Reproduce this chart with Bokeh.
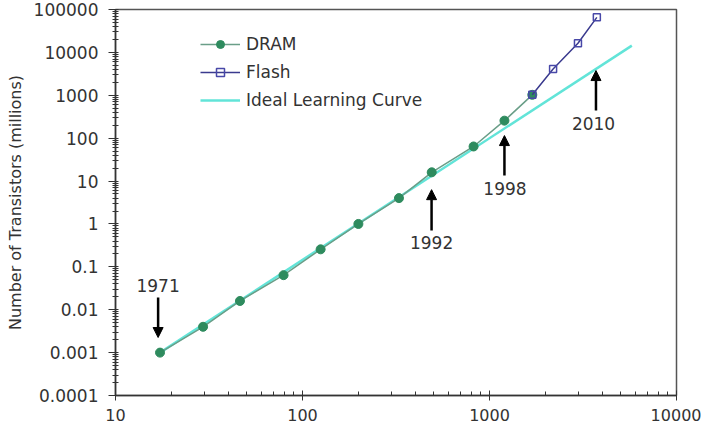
from bokeh.plotting import figure
from bokeh.models import (Range1d, FixedTicker, CustomJSTickFormatter, Legend, LegendItem,
                          Arrow, NormalHead, ColumnDataSource)
from bokeh.embed import file_html
from bokeh.resources import INLINE

# ---- data ----
dram_x = [17.3, 29.4, 46.3, 79.2, 125, 199, 328, 491, 822, 1202, 1694]
dram_y = [0.001, 0.004, 0.016, 0.064, 0.256, 1.0, 4.0, 16.0, 64.0, 256.0, 1024.0]

flash_x = [1694, 2188, 2972, 3750]
flash_y = [1024.0, 4096.0, 16384.0, 65536.0]

ideal_x = [17.3, 5770]
ideal_y = [0.001, 14400]

arrow_years = ["1971", "1992", "1998", "2010"]
arrow_x = [16.9, 490, 1202, 3710]
arrow_tail_y = [0.0192, 0.70, 13.5, 440]
arrow_head_y = [0.00225, 6.3, 115, 3770]
year_label_x = [16.9, 490, 1210, 3600]
year_label_y = [0.0367, 0.37, 6.7, 219]

x_ticks = [10, 100, 1000, 10000]
x_tick_labels = ["10", "100", "1000", "10000"]
y_ticks = [1e-4, 1e-3, 1e-2, 1e-1, 1, 10, 100, 1000, 10000, 100000]
y_tick_labels = ["0.0001", "0.001", "0.01", "0.1", "1", "10", "100", "1000", "10000", "100000"]

FONT = "DejaVu Sans"
TXT = "#333333"
FS = "17px"

p = figure(width=701, height=428, x_axis_type="log", y_axis_type="log",
           x_range=Range1d(10, 10000), y_range=Range1d(1e-4, 1e5),
           output_backend="svg", toolbar_location=None,
           min_border_left=115, min_border_right=25, min_border_top=9, min_border_bottom=33)

p.xgrid.visible = False
p.ygrid.visible = False
p.outline_line_color = "#555555"
p.outline_line_width = 1.5
p.background_fill_color = "white"
p.border_fill_color = "white"

def minor(ticks):
    out = []
    for t in ticks[:-1]:
        for m in range(2, 10):
            out.append(t * m)
    return out

fmt_code = """
const i = tvals.findIndex(t => Math.abs(Math.log10(t) - Math.log10(tick)) < 1e-6);
return i >= 0 ? tlabels[i] : '';
"""

xa = p.xaxis[0]
xa.ticker = FixedTicker(ticks=x_ticks, minor_ticks=minor(x_ticks))
xa.formatter = CustomJSTickFormatter(args=dict(tvals=x_ticks, tlabels=x_tick_labels), code=fmt_code)
xa.major_tick_in = 5
xa.major_tick_out = 5
xa.minor_tick_in = 4
xa.minor_tick_out = 0
xa.major_label_standoff = 8
xa.major_label_text_font = FONT
xa.major_label_text_font_size = "16px"
xa.major_label_text_color = TXT
xa.axis_line_color = "#333333"
xa.axis_line_width = 1.5
xa.major_tick_line_color = "#333333"
xa.minor_tick_line_color = "#333333"

ya = p.yaxis[0]
ya.ticker = FixedTicker(ticks=y_ticks, minor_ticks=minor(y_ticks))
ya.formatter = CustomJSTickFormatter(args=dict(tvals=y_ticks, tlabels=y_tick_labels), code=fmt_code)
ya.major_tick_in = 3
ya.major_tick_out = 7
ya.minor_tick_in = 3
ya.minor_tick_out = 3
ya.major_label_standoff = 10
ya.major_label_text_font = FONT
ya.major_label_text_font_size = FS
ya.major_label_text_color = TXT
ya.axis_line_color = "#333333"
ya.axis_line_width = 1.5
ya.major_tick_line_color = "#333333"
ya.minor_tick_line_color = "#333333"
ya.axis_label = "Number of Transistors (millions)"
ya.axis_label_text_font = FONT
ya.axis_label_text_font_size = "16px"
ya.axis_label_text_font_style = "normal"
ya.axis_label_text_color = TXT
ya.axis_label_standoff = 6

# ---- series ----
ideal = p.line(ideal_x, ideal_y, line_color="#62e4d8", line_width=2.5)
dram_line = p.line(dram_x, dram_y, line_color="#6a9e88", line_width=1.5)
dram_pts = p.scatter(dram_x, dram_y, marker="circle", size=9,
                     fill_color="#2e8b5e", line_color="#2e8b5e")
flash_line = p.line(flash_x, flash_y, line_color="#3a3a8e", line_width=1.5)
flash_pts = p.scatter(flash_x, flash_y, marker="square", size=7,
                      fill_color="white", fill_alpha=0.0, line_color="#4848a8", line_width=1.5)

# ---- arrows & year labels ----
asrc = ColumnDataSource(dict(x=arrow_x, y0=arrow_tail_y, y1=arrow_head_y))
p.add_layout(Arrow(source=asrc, x_start="x", y_start="y0", x_end="x", y_end="y1",
                   line_color="black", line_width=2.5,
                   end=NormalHead(size=10, fill_color="black", line_color="black")))
p.text(x=year_label_x, y=year_label_y, text=arrow_years, text_align="center",
       text_baseline="middle", text_font={"value": FONT}, text_font_size=FS,
       text_color=TXT)

# ---- legend ----
legend = Legend(items=[
    LegendItem(label="DRAM", renderers=[dram_line, dram_pts]),
    LegendItem(label="Flash", renderers=[flash_line, flash_pts]),
    LegendItem(label="Ideal Learning Curve", renderers=[ideal]),
], location=(75, 275), margin=0, padding=10, spacing=8,
   glyph_width=40, glyph_height=20, label_height=20, label_standoff=6,
   label_text_font=FONT, label_text_font_size=FS, label_text_color=TXT,
   border_line_alpha=0, background_fill_alpha=0)
p.add_layout(legend)

open("out.html", "w").write(file_html(p, INLINE))
